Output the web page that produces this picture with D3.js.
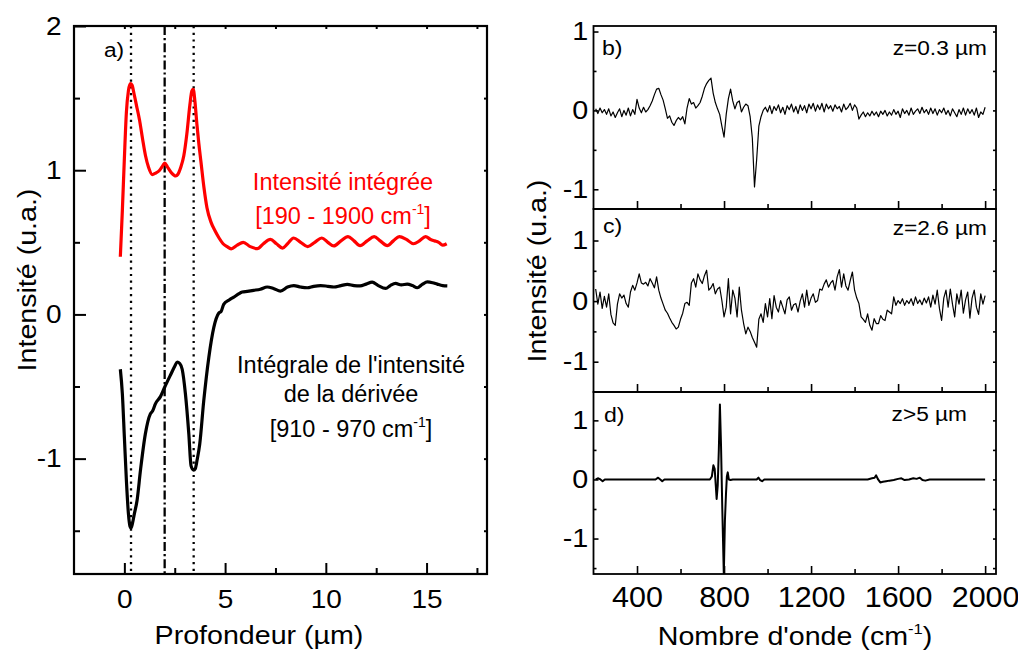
<!DOCTYPE html>
<html><head><meta charset="utf-8">
<script src="https://cdn.jsdelivr.net/npm/d3@7"></script>
<style>
body{margin:0;background:#fff}
svg text{font-family:"Liberation Sans",Arial,sans-serif;fill:#000}
</style>
</head><body>
<svg id="chart" width="1018" height="651"></svg>
<script>
// ---------- DATA ----------
// Panel a: depth (µm) vs intensity
const integratedIntensity = [[-0.2,0.40],[-0.1,0.72],[0.0,1.08],[0.1,1.40],[0.2,1.55],[0.3,1.60],[0.38,1.59],[0.48,1.53],[0.6,1.45],[0.75,1.35],[0.9,1.22],[1.05,1.10],[1.2,1.02],[1.38,0.97],[1.55,0.98],[1.75,1.00],[1.9,1.03],[2.0,1.05],[2.15,1.02],[2.35,0.98],[2.55,0.96],[2.65,0.97],[2.8,1.02],[2.95,1.10],[3.1,1.25],[3.25,1.45],[3.35,1.55],[3.42,1.56],[3.5,1.48],[3.6,1.32],[3.7,1.18],[3.8,1.06],[3.95,0.88],[4.1,0.74],[4.3,0.64],[4.5,0.58],[4.7,0.53],[4.9,0.49],[5.1,0.47],[5.3,0.455],[5.6,0.48],[5.9,0.50],[6.25,0.47],[6.6,0.456],[6.9,0.49],[7.25,0.52],[7.55,0.49],[7.85,0.46],[8.1,0.49],[8.4,0.53],[8.75,0.50],[9.1,0.47],[9.45,0.50],[9.8,0.53],[10.1,0.50],[10.4,0.475],[10.75,0.51],[11.1,0.54],[11.4,0.51],[11.7,0.477],[12.05,0.51],[12.4,0.54],[12.7,0.51],[13.05,0.477],[13.35,0.51],[13.65,0.54],[14.0,0.52],[14.35,0.49],[14.65,0.51],[14.95,0.54],[15.2,0.52],[15.4,0.51],[15.6,0.50],[15.8,0.48],[16.0,0.49]];
const derivativeIntegral = [[-0.2,-0.38],[-0.1,-0.55],[0.0,-0.85],[0.1,-1.15],[0.2,-1.38],[0.28,-1.47],[0.33,-1.48],[0.4,-1.45],[0.5,-1.38],[0.63,-1.29],[0.8,-1.08],[1.04,-0.83],[1.29,-0.69],[1.4,-0.67],[1.54,-0.62],[1.79,-0.57],[2.0,-0.505],[2.29,-0.42],[2.5,-0.36],[2.62,-0.33],[2.75,-0.34],[2.87,-0.38],[3.03,-0.55],[3.2,-0.83],[3.31,-1.05],[3.44,-1.08],[3.52,-1.07],[3.61,-1.01],[3.74,-0.90],[3.94,-0.60],[4.19,-0.30],[4.44,-0.09],[4.69,0.01],[4.8,0.02],[4.93,0.07],[5.2,0.10],[5.43,0.12],[5.65,0.14],[5.85,0.155],[6.1,0.16],[6.42,0.167],[6.75,0.175],[7.09,0.19],[7.4,0.18],[7.75,0.162],[8.1,0.19],[8.41,0.20],[8.75,0.19],[9.08,0.185],[9.4,0.195],[9.74,0.20],[10.1,0.195],[10.4,0.19],[10.75,0.20],[11.07,0.208],[11.4,0.20],[11.7,0.198],[12.0,0.21],[12.3,0.224],[12.6,0.20],[12.97,0.18],[13.2,0.20],[13.46,0.215],[13.75,0.205],[14.04,0.21],[14.3,0.20],[14.54,0.185],[14.8,0.21],[15.04,0.225],[15.3,0.22],[15.53,0.21],[15.8,0.20],[16.03,0.198]];
const markerDepths = [0.33, 2.0, 3.44];
const markerStyles = ["dot", "dashdot", "dot"];
const depthTicks = [0, 5, 10, 15];
const intensityTicksA = [-1, 0, 1, 2];

// Panels b, c: spectra sampled on a common wavenumber grid (cm-1)
const wavenumbers = [210,220,230,240,250,260,270,280,290,300,310,320,330,340,350,360,370,380,390,400,
410,420,430,440,450,460,470,480,490,500,510,520,530,540,550,560,570,580,590,600,
610,620,630,640,650,660,670,680,690,700,710,720,730,740,750,760,770,780,790,800,
810,820,830,840,850,860,870,880,890,900,910,920,930,940,950,960,970,980,990,1000,
1010,1020,1030,1040,1050,1060,1070,1080,1090,1100,1110,1120,1130,1140,1150,1160,1170,1180,1190,1200,
1210,1220,1230,1240,1250,1260,1270,1280,1290,1300,1310,1320,1330,1340,1350,1360,1370,1380,1390,1400,
1410,1420,1430,1440,1450,1460,1470,1480,1490,1500,1510,1520,1530,1540,1550,1560,1570,1580,1590,1600,
1610,1620,1630,1640,1650,1660,1670,1680,1690,1700,1710,1720,1730,1740,1750,1760,1770,1780,1790,1800,
1810,1820,1830,1840,1850,1860,1870,1880,1890,1900,1910,1920,1930,1940,1950,1960,1970,1980,1990,2000];
const spectrumB = [0.02,-0.04,0.03,-0.03,0.01,-0.05,0.02,-0.07,-0.02,-0.09,-0.03,0.02,-0.08,0.00,-0.06,0.03,-0.07,0.01,-0.05,0.14,
0.03,-0.03,0.04,-0.02,0.01,0.06,0.12,0.20,0.27,0.28,0.20,0.13,0.02,-0.10,-0.07,-0.15,-0.19,-0.13,-0.09,-0.12,
-0.08,-0.17,0.03,0.15,0.08,0.10,0.03,0.06,0.10,0.18,0.28,0.34,0.38,0.41,0.22,0.10,0.02,-0.05,-0.20,-0.34,
-0.05,0.15,0.27,0.12,0.02,0.10,0.12,-0.02,0.04,0.08,0.06,-0.08,-0.35,-0.97,-0.62,-0.20,-0.08,0.00,0.04,-0.02,
0.06,-0.04,0.05,0.00,0.07,-0.03,0.04,-0.05,0.06,0.01,0.08,-0.02,0.05,-0.04,0.07,0.00,0.06,-0.03,0.08,0.02,
0.09,-0.01,0.07,0.01,0.09,-0.02,0.08,0.02,0.06,-0.01,0.07,0.02,0.05,-0.02,0.08,0.01,0.04,0.09,0.00,0.07,
0.03,-0.11,-0.06,-0.02,-0.08,-0.03,-0.07,-0.01,-0.06,-0.02,-0.08,-0.01,-0.05,0.00,-0.07,-0.02,-0.06,0.01,-0.05,-0.01,
-0.09,0.02,-0.04,0.00,-0.06,0.03,-0.05,-0.01,0.02,-0.04,0.04,-0.03,0.01,-0.05,0.03,-0.04,0.02,-0.06,0.01,-0.03,
0.03,-0.05,0.00,-0.07,0.02,-0.03,-0.08,0.01,-0.05,0.03,-0.06,0.02,-0.04,0.01,-0.06,0.03,-0.09,-0.02,-0.05,0.04];
const spectrumC = [0.20,-0.05,0.15,-0.12,0.08,-0.10,0.12,-0.22,-0.36,-0.40,-0.05,0.12,0.05,0.10,-0.04,-0.10,0.15,0.26,0.18,0.30,
0.45,0.30,0.28,0.31,0.25,0.37,0.30,0.22,0.40,0.18,0.05,-0.05,-0.15,-0.20,-0.28,-0.35,-0.40,-0.46,-0.43,-0.30,
-0.20,-0.04,-0.02,-0.07,0.30,0.37,0.23,0.45,0.35,0.29,0.42,0.51,0.18,0.22,0.29,0.12,0.20,0.23,0.01,-0.26,
-0.10,0.37,-0.21,0.18,0.05,-0.26,0.23,-0.15,-0.37,-0.54,-0.43,-0.50,-0.60,-0.68,-0.76,-0.30,-0.21,-0.35,-0.04,-0.26,
0.04,-0.29,0.09,-0.10,-0.18,0.01,-0.10,-0.21,0.02,0.07,-0.15,-0.06,-0.04,-0.18,0.00,0.12,-0.10,0.18,-0.07,0.05,
0.12,-0.02,0.01,0.20,0.18,0.28,0.35,0.23,0.30,0.34,0.18,0.40,0.52,0.23,0.45,0.25,0.18,0.34,0.48,0.18,
0.05,-0.04,-0.26,-0.30,-0.35,-0.21,-0.40,-0.48,-0.29,-0.37,-0.37,-0.24,-0.30,-0.32,-0.15,-0.18,-0.21,0.07,-0.07,0.01,
-0.04,0.04,-0.07,0.01,-0.04,0.04,-0.07,0.07,-0.04,0.02,-0.06,0.05,-0.03,0.07,-0.10,0.10,-0.05,0.18,-0.12,-0.32,
0.05,0.18,-0.10,0.20,-0.05,-0.26,0.12,-0.05,0.18,-0.20,0.02,0.15,-0.28,0.05,0.18,-0.10,-0.22,0.12,-0.05,0.09];
// Panel d: [wavenumber, intensity]
const spectrumD = [[210,0],[222,0.02],[232,0.0],[242,-0.03],[252,0.0],[485,0.0],[497,0.03],[507,0.0],[516,-0.03],[526,0],[735,0],[744,0.05],[751,0.24],[757,0.18],[762,-0.1],[766,-0.33],[771,-0.1],[776,0.5],[781,1.27],[786,0.6],[792,-0.5],[799,-1.62],[804,-0.7],[809,-0.24],[813,0.05],[817,0.12],[822,0.0],[830,-0.01],[840,0],[950,0],[958,0.03],[966,-0.01],[975,-0.03],[985,0],[1460,0],[1480,0.02],[1492,0.03],[1499,0.07],[1508,0.0],[1518,-0.05],[1530,-0.04],[1545,-0.03],[1560,-0.02],[1580,-0.01],[1600,0.01],[1615,0.02],[1630,-0.01],[1650,0.0],[1670,0.02],[1685,0.01],[1700,0.03],[1712,-0.01],[1725,-0.02],[1745,0.0],[2000,0]];
const wavenumberTicks = [400, 800, 1200, 1600, 2000];
const wavenumberMinorTicks = [600, 1000, 1400, 1800];
const spectraTicks = [-1, 0, 1];
const spectraMinorTicks = [-1.5, -0.5, 0.5];
const panelLabels = ["a)", "b)", "c)", "d)"];
const depthLabels = ["z=0.3 µm", "z=2.6 µm", "z>5 µm"];

// ---------- DRAWING ----------
const svg = d3.select("#chart");
svg.append("rect").attr("width",1018).attr("height",651).attr("fill","#fff");
const plainFormat = d => String(d);   // hyphen-minus like the original

function superText(sel, parts, supSize) {
  sel.append("tspan").text(parts[0]);
  sel.append("tspan").attr("font-size", supSize).attr("dy", -supSize*0.75).text(parts[1]);
  sel.append("tspan").attr("dy", supSize*0.75).text(parts[2]);
}
function label(x, y, str, size, sx, anchor, rot) {
  const t = svg.append("text")
    .attr("transform", `translate(${x},${y})` + (rot ? ` rotate(${rot})` : "") + ` scale(${sx},1)`)
    .attr("font-size", size).attr("text-anchor", anchor || "middle");
  if (str) t.text(str);
  return t;
}

// ===== Panel a =====
const ax = d3.scaleLinear().domain([-2.5, 18]).range([74, 487]);
const ay = d3.scaleLinear().domain([-1.8, 2]).range([574, 26]);
const gA = svg.append("g");
svg.append("clipPath").attr("id","clipA").append("rect")
  .attr("x",74).attr("y",26).attr("width",413).attr("height",548);

markerDepths.forEach((d,i) => {
  gA.append("line").attr("x1", ax(d)).attr("x2", ax(d)).attr("y1", ay(2)).attr("y2", ay(-1.8))
    .attr("stroke","#000").attr("stroke-width",2.3)
    .attr("stroke-dasharray", markerStyles[i] === "dot" ? "2.2,4.5" : "9,3,2.2,3");
});

const lineA = d3.line().x(d => ax(d[0])).y(d => ay(d[1])).curve(d3.curveMonotoneX);
gA.append("path").datum(integratedIntensity).attr("d", lineA).attr("fill","none")
  .attr("stroke","#ff0000").attr("stroke-width",3.2).attr("stroke-linejoin","round").attr("clip-path","url(#clipA)");
gA.append("path").datum(derivativeIntegral).attr("d", lineA).attr("fill","none")
  .attr("stroke","#000").attr("stroke-width",3.2).attr("stroke-linejoin","round").attr("clip-path","url(#clipA)");

function styleAxis(g, sx, size) {
  g.select(".domain").remove();
  g.selectAll(".tick line").attr("stroke","#000").attr("stroke-width",2);
  g.selectAll(".tick text").attr("font-size", size).attr("font-family",'"Liberation Sans",Arial,sans-serif')
    .attr("fill","#000").attr("transform", `scale(${sx},1)`);
}
const aBottom = svg.append("g").attr("transform","translate(0,574)")
  .call(d3.axisBottom(ax).tickValues(depthTicks).tickFormat(plainFormat).tickSize(-11).tickPadding(16));
styleAxis(aBottom, 1.12, 25);
const aBottomMinor = svg.append("g").attr("transform","translate(0,574)")
  .call(d3.axisBottom(ax).tickValues([2.5,7.5,12.5,17.5]).tickFormat("").tickSize(-6));
styleAxis(aBottomMinor, 1, 10);
const aLeft = svg.append("g").attr("transform","translate(74,0)")
  .call(d3.axisLeft(ay).tickValues(intensityTicksA).tickFormat(plainFormat).tickSize(-12).tickPadding(11));
styleAxis(aLeft, 1.12, 25);
const aLeftMinor = svg.append("g").attr("transform","translate(74,0)")
  .call(d3.axisLeft(ay).tickValues([-1.5,-0.5,0.5,1.5]).tickFormat("").tickSize(-6));
styleAxis(aLeftMinor, 1, 10);
const aTop = svg.append("g").attr("transform","translate(0,26)")
  .call(d3.axisTop(ax).tickValues([0,2.5,5,7.5,10,12.5,15,17.5]).tickFormat("").tickSize(-3));
styleAxis(aTop, 1, 10);
const aRight = svg.append("g").attr("transform","translate(487,0)")
  .call(d3.axisRight(ay).tickValues([-1.5,-1,-0.5,0,0.5,1,1.5]).tickFormat("").tickSize(-3));
styleAxis(aRight, 1, 10);
svg.append("rect").attr("x",74).attr("y",26).attr("width",413).attr("height",548)
  .attr("fill","none").attr("stroke","#000").attr("stroke-width",2.2);

label(104, 57, panelLabels[0], 21, 1.08, "start");
const t1 = label(343, 190, "Intensité intégrée", 23.5, 1, "middle"); t1.style("fill","#ff0000");
const t2 = label(343, 224, null, 23.5, 1, "middle"); t2.style("fill","#ff0000");
superText(t2, ["[190 - 1900 cm", "-1", "]"], 14);
t2.selectAll("tspan").style("fill","#ff0000");
label(351, 373, "Intégrale de l'intensité", 23.5, 1, "middle");
label(351, 402, "de la dérivée", 23.5, 1, "middle");
const t3 = label(351, 437, null, 23.5, 1, "middle");
superText(t3, ["[910 - 970 cm", "-1", "]"], 14);

label(259, 644, "Profondeur (µm)", 26, 1.1, "middle");
label(36, 280, "Intensité (u.a.)", 26, 1.1, "middle", -90);

// ===== Panels b, c, d =====
const sx = d3.scaleLinear().domain([200, 2050]).range([593.5, 996]);
const panels = [
  {top:26, bottom:209, dom:[-1.25,1.07], type:"grid", vals:spectrumB, lw:1.2},
  {top:209, bottom:392, dom:[-1.5,1.52], type:"grid", vals:spectrumC, lw:1.2},
  {top:392, bottom:574, dom:[-1.6,1.48], type:"pairs", vals:spectrumD, lw:2}
];
const zPos = [[987,55,"end"],[987,235,"end"],[967,421,"end"]];
const letterPos = [[602,55],[603,233],[604,422]];
panels.forEach((p, i) => {
  const y = d3.scaleLinear().domain(p.dom).range([p.bottom, p.top]);
  const id = "clipS" + i;
  svg.append("clipPath").attr("id", id).append("rect")
    .attr("x", 593.5).attr("y", p.top).attr("width", 996-593.5).attr("height", p.bottom - p.top);
  const data = p.type === "grid" ? wavenumbers.map((w, k) => [w, p.vals[k]]).filter(d => d[1] !== undefined) : p.vals;
  svg.append("path").datum(data)
    .attr("d", d3.line().x(d => sx(d[0])).y(d => y(d[1])))
    .attr("fill","none").attr("stroke","#000").attr("stroke-width", p.lw)
    .attr("stroke-linejoin","round").attr("clip-path", `url(#${id})`);

  const bottomMajor = svg.append("g").attr("transform", `translate(0,${p.bottom})`)
    .call(d3.axisBottom(sx).tickValues(wavenumberTicks).tickFormat(i === 2 ? plainFormat : "").tickSize(-8).tickPadding(12));
  styleAxis(bottomMajor, 1.05, 29);
  bottomMajor.selectAll(".tick line").attr("stroke-width",1.6);
  const bottomMinor = svg.append("g").attr("transform", `translate(0,${p.bottom})`)
    .call(d3.axisBottom(sx).tickValues(wavenumberMinorTicks).tickFormat("").tickSize(-5));
  styleAxis(bottomMinor, 1, 10);
  bottomMinor.selectAll(".tick line").attr("stroke-width",1.6);
  const left = svg.append("g").attr("transform", "translate(593.5,0)")
    .call(d3.axisLeft(y).tickValues(spectraTicks).tickFormat(plainFormat).tickSize(-5).tickPadding(4.5));
  styleAxis(left, 1.15, 25);
  left.selectAll(".tick line").attr("stroke-width",1.6);
  const leftMinor = svg.append("g").attr("transform", "translate(593.5,0)")
    .call(d3.axisLeft(y).tickValues(spectraMinorTicks.filter(v => v > p.dom[0] + 0.05)).tickFormat("").tickSize(-3));
  styleAxis(leftMinor, 1, 10);
  leftMinor.selectAll(".tick line").attr("stroke-width",1.6);
  const right = svg.append("g").attr("transform", "translate(996,0)")
    .call(d3.axisRight(y).tickValues([-1.5,-1,-0.5,0,0.5,1].filter(v => v > p.dom[0] + 0.05 && v < p.dom[1])).tickFormat("").tickSize(-3));
  styleAxis(right, 1, 10);
  right.selectAll(".tick line").attr("stroke-width",1.6);

  svg.append("rect").attr("x",593.5).attr("y",p.top).attr("width",996-593.5).attr("height",p.bottom-p.top)
    .attr("fill","none").attr("stroke","#000").attr("stroke-width",1.8);

  label(letterPos[i][0], letterPos[i][1], panelLabels[i+1], 21, 1.1, "start");
  label(zPos[i][0], zPos[i][1], depthLabels[i], 21, 1.08, zPos[i][2]);
});

const tx = label(795, 645, null, 26, 1.1, "middle");
superText(tx, ["Nombre d'onde (cm", "-1", ")"], 15);
label(546, 271, "Intensité (u.a.)", 26, 1.1, "middle", -90);
</script>
</body></html>
